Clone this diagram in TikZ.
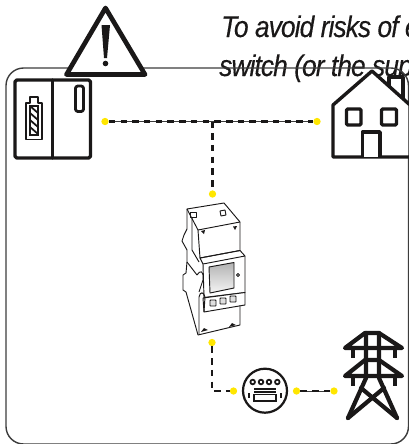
\documentclass[tikz,border=0pt]{standalone}
\usepackage{fontspec}
\setmainfont{Liberation Sans}
\usetikzlibrary{positioning,calc}
\definecolor{ink}{RGB}{26,24,24}
\definecolor{framegray}{RGB}{60,60,60}
\definecolor{spark}{RGB}{255,230,0}
\tikzset{
  note/.style={anchor=base west,inner sep=0pt,text=ink,font=\fontsize{25.5}{27}\selectfont\itshape\addfontfeature{FakeBold=0.25,FakeStretch=0.88,LetterSpace=-3}},
  frameline/.style={draw=framegray,line width=1.2pt,rounded corners=15pt},
  icon/.style={draw=ink,line width=2.9pt,line join=round,fill=white},
  iconline/.style={draw=ink,line width=2.9pt,line join=round,line cap=round},
  device/.style={draw=ink,line width=0.8pt,line join=round},
  dot/.style={circle,fill=spark,minimum size=0.22cm,inner sep=0pt},
  wire/.style={draw=ink,line width=2.4pt,dash pattern=on 5.5pt off 4.5pt},
  wirethin/.style={draw=framegray,line width=0.5pt},
}
\begin{document}
\begin{tikzpicture}[x=0.03cm,y=-0.03cm]
  \useasboundingbox (0,0) rectangle (408,444);
  \node[note] (line1) at (221,37) {To avoid risks of e};
  \node[note] (line2) at (219,76) {switch (or the sup};
  \draw[frameline] (6,444) -- (6,68) -- (408.5,68) -- (408.5,444) -- cycle;
  % warning sign
  \draw[icon,line width=4pt] (105.5,8) -- (145,74.5) -- (66.5,74.5) -- cycle;
  \fill[ink] (101.5,25) -- (110,25) -- (107,58) -- (104,58) -- cycle;
  \fill[ink] (105.5,63.5) circle (2.8);
  % storage cabinet
  \draw[icon,rounded corners=1.5pt] (15,80) rectangle (90.5,158);
  \draw[iconline] (52.5,80) -- (52.5,158);
  \draw[icon,line width=2.4pt,rounded corners=2pt] (75.5,86) rectangle (83.5,111.5);
  \draw[device,line width=1pt] (26,103) -- (30,103) -- (30,97) -- (38,97) -- (38,103) -- (42,103) -- (42,139.5) -- (26,139.5) -- cycle;
  \draw[draw=ink,line width=1.8pt] (30,106) rectangle (38,135);
  \foreach \y in {106,113,120,127}
    \draw[draw=ink,line width=1.5pt] (30,\y) -- (38,\y+7);
  % house
  \draw[icon] (389,77) rectangle (403,104);
  \draw[icon] (333,157) -- (333,105) -- (372,71) -- (410,105) -- (410,157) -- cycle;
  \draw[icon,rounded corners=1pt] (346.5,109) rectangle (361,125);
  \draw[icon,rounded corners=1pt] (381.5,109) rectangle (396.5,125);
  \draw[icon] (362.5,157) -- (362.5,132) -- (380,132) -- (380,157);
  % connectors
  \node[dot] (dotstore) at (105,121.5) {};
  \node[dot] (dothouse) at (317,121.5) {};
  \node[dot] (dottop) at (212.5,194) {};
  \node[dot] (dotlow) at (212,342.5) {};
  \node[dot] (dotleft) at (233.5,391) {};
  \node[dot] (dotright) at (296.5,391) {};
  \node[dot] (dotgrid) at (334,391) {};
  \coordinate (tee) at (dottop |- dotstore);
  \coordinate (bend) at (dotlow |- dotleft);
  \draw[wirethin] (dotstore) -- (dothouse);
  \draw[wire] (dotstore) -- (dothouse);
  \draw[wire] (tee) -- (dottop);
  \draw[wire] (dotlow) -- (bend) -- (dotleft);
  \draw[wirethin] (dotright) -- (dotgrid);
  \draw[wire] (dotright) -- (dotgrid);
  % din rail meter
  \draw[device] (187,209) -- (224,203) -- (240,222) -- (198,230) -- cycle;
  \draw[device] (198,230) -- (200,258) -- (240,250.5) -- (240,222);
  \draw[device] (187,209) -- (187,229) -- (184,235) -- (182,241) -- (187,250) -- (187,262) -- (197,275);
  \draw[device] (192,218) -- (192,250) -- (199,262);
  \draw[device] (190,212) rectangle (196,217);
  \draw[device] (220,211) -- (225,210) -- (226,215) -- (221,216) -- cycle;
  \fill[ink] (201,231) -- (205,230) -- (204,234) -- cycle (233,226.5) -- (237,226) -- (235,230) -- cycle;
  \draw[device] (200,258) -- (240,250.5) -- (245,256) -- (203,264) -- cycle;
  \draw[device] (203,264) -- (204,297.5) -- (245,292.5) -- (245,256);
  \draw[device,fill=white] (203,298) -- (245,292.5) -- (245,305) -- (204,312) -- cycle;
  \shade[top color=gray!60,bottom color=gray!8] (209,267) -- (234,262.5) -- (234,288) -- (210,293) -- cycle;
  \draw[device] (209,267) -- (234,262.5) -- (234,288) -- (210,293) -- cycle;
  \draw[device] (238,275) circle (1.5);
  \foreach \x/\y in {213/303,223/301,233/299}
    \draw[device,fill=gray!25,rounded corners=0.5pt] (\x-3,\y-3) rectangle (\x+3,\y+3);
  \draw[device] (183,275) -- (183,290) -- (186,292) -- (198,335) -- (240,325) -- (240,305);
  \draw[device] (183,275) -- (186,273) -- (187,262);
  \draw[device] (199,334) -- (199,297) .. controls (200,291) and (204,292) .. (205,297) -- (204,312);
  \draw[device] (197,275) .. controls (200,270) and (204,270) .. (203,280) -- (199,292);
  \fill[ink] (201,332) -- (204,328) -- (208,330) -- cycle (229,327) -- (232,323) -- (236,325) -- cycle;
  % utility meter
  \draw[icon,line width=1.9pt] (265,390.7) circle (22);
  \foreach \x in {252.7,261,269,277.3}
    \draw[draw=ink,line width=1.5pt] (\x,382) circle (2.3);
  \draw[draw=ink,line width=1.4pt] (254,389) -- (276,389);
  \draw[draw=ink,line width=1pt] (254,392) -- (276,392);
  \draw[draw=ink,line width=1.6pt] (254,394.5) rectangle (276,401);
  \draw[draw=ink,line width=1.4pt] (249,393) -- (249,398) (281,393) -- (281,398);
  % pylon
  \begin{scope}[draw=ink,line width=3.6pt,line join=round,line cap=round]
    \draw (345,348) -- (365,333) -- (379,333) -- (402,348) -- cycle;
    \draw (345,376) -- (365,360) -- (379,360) -- (402,376) -- cycle;
    \draw (366,333) -- (366,378) -- (348,418);
    \draw (379,333) -- (379,378) -- (397,418);
    \draw (361,388) -- (397,418);
    \draw (384,388) -- (348,418);
    \foreach \x in {353,395}
      \draw[line cap=butt,line width=4pt] (\x,348) -- (\x,358) (\x,376) -- (\x,386);
  \end{scope}
\end{tikzpicture}
\end{document}
